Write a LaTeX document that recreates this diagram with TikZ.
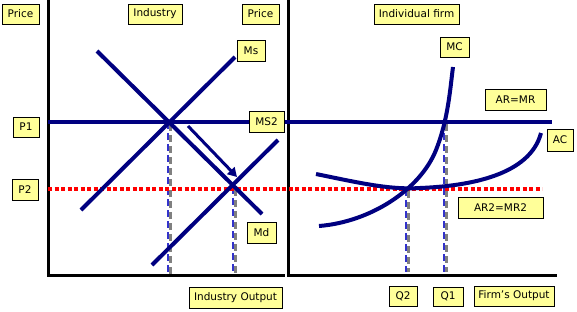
\documentclass[tikz,border=0pt]{standalone}
\usepackage{fontspec}
\setmainfont{DejaVu Sans}
\usetikzlibrary{arrows.meta}
\definecolor{navy}{RGB}{0,0,128}
\definecolor{labelfill}{RGB}{255,255,153}
\definecolor{dashblue}{RGB}{51,51,204}
\definecolor{dashgray}{RGB}{128,128,128}
\begin{document}
\begin{tikzpicture}[x=1pt,y=-1pt,
  lbl/.style={draw=black,line width=0.8pt,fill=labelfill,inner sep=0pt,font=\fontsize{10.5}{11}\selectfont},
  axis/.style={line width=3pt,black},
  curve/.style={line width=4pt,navy},
  drop/.style={line width=2.6pt,dashblue,dash pattern=on 7pt off 4pt},
  dropshadow/.style={line width=2.6pt,dashgray,dash pattern=on 7pt off 4pt,dash phase=-2pt},
  reddot/.style={line width=3.5pt,red,dash pattern=on 4pt off 2.5pt}]
\useasboundingbox (0,0) rectangle (577,311);
\fill[white] (0,0) rectangle (577,311);
% coordinates
\coordinate (LT) at (48,0);
\coordinate (LO) at (48,275);
\coordinate (LE) at (285,275);
\coordinate (RT) at (288,0);
\coordinate (RO) at (288,275);
\coordinate (RE) at (557,275);
\coordinate (P1a) at (48,122);
\coordinate (P1b) at (552,122);
\coordinate (P2a) at (48,189);
\coordinate (P2b) at (542,189);
\coordinate (E1) at (168,122);
\coordinate (E2) at (233,187);
\coordinate (F2) at (406,189);
\coordinate (F1) at (444,122);
% axes
\draw[axis] (LT) -- (LO) -- (LE);
\draw[axis] (RT) -- (RO) -- (RE);
% dashed drops
\draw[dropshadow] ([xshift=2.5pt]E1) -- ([xshift=2.5pt]168,274);
\draw[drop] (E1) -- (168,274);
\draw[dropshadow] ([xshift=2.5pt]E2) -- ([xshift=2.5pt]233,274);
\draw[drop] (E2) -- (233,274);
\draw[dropshadow] ([xshift=2.5pt]F2) -- ([xshift=2.5pt]406,272);
\draw[drop] (F2) -- (406,272);
\draw[dropshadow] ([xshift=2.5pt]F1) -- ([xshift=2.5pt]444,272);
\draw[drop] (F1) -- (444,272);
% price lines
\draw[reddot] (P2a) -- (P2b);
\draw[line width=3.5pt,navy] (P1a) -- (P1b);
% industry curves
\draw[curve] (97,51) -- (262,214);
\draw[curve] (81,210) -- (235,57);
\draw[curve] (152,265) -- (278,140);
\draw[line width=3pt,navy,-{Triangle[length=9pt,width=10pt]}] (188,126) -- (237,177);
% firm curves
\draw[curve] (319,226) .. controls (370,222) and (420,190) .. (436,150) .. controls (448,120) and (450,90) .. (453,67);
\draw[curve] (316,174) .. controls (360,183) and (390,190) .. (420,188) .. controls (470,186) and (530,175) .. (541,133);
% labels
\node[lbl,minimum width=37pt,minimum height=20pt] (price1) at (20.5,14) {Price};
\node[lbl,minimum width=54pt,minimum height=20pt] (industry) at (155,14) {Industry};
\node[lbl,minimum width=37pt,minimum height=20pt] (price2) at (260.5,14) {Price};
\node[lbl,minimum width=28pt,minimum height=21pt] (ms) at (251,50.5) {Ms};
\node[lbl,minimum width=35pt,minimum height=21pt] (ms2) at (266.5,122) {MS2};
\node[lbl,minimum width=26pt,minimum height=20pt] (p1) at (26,127) {P1};
\node[lbl,minimum width=26pt,minimum height=21pt] (p2) at (25,189.5) {P2};
\node[lbl,minimum width=29pt,minimum height=21pt] (md) at (261.5,232.5) {Md};
\node[lbl,minimum width=93pt,minimum height=21pt] (indout) at (235.5,297.5) {Industry Output};
\node[lbl,minimum width=85pt,minimum height=20pt] (indfirm) at (416.5,14) {Individual firm};
\node[lbl,minimum width=29pt,minimum height=20pt] (mc) at (454.5,47) {MC};
\node[lbl,minimum width=61pt,minimum height=21pt] (armr) at (515.5,99.5) {AR=MR};
\node[lbl,minimum width=26pt,minimum height=22pt] (ac) at (560,140) {AC};
\node[lbl,minimum width=85pt,minimum height=21pt] (ar2) at (500.5,207.5) {AR2=MR2};
\node[lbl,minimum width=28pt,minimum height=20pt] (q2) at (403,296) {Q2};
\node[lbl,minimum width=30pt,minimum height=19pt] (q1) at (448,296.5) {Q1};
\node[lbl,minimum width=80pt,minimum height=20pt] (firmout) at (514,296) {Firm’s Output};
\end{tikzpicture}
\end{document}
